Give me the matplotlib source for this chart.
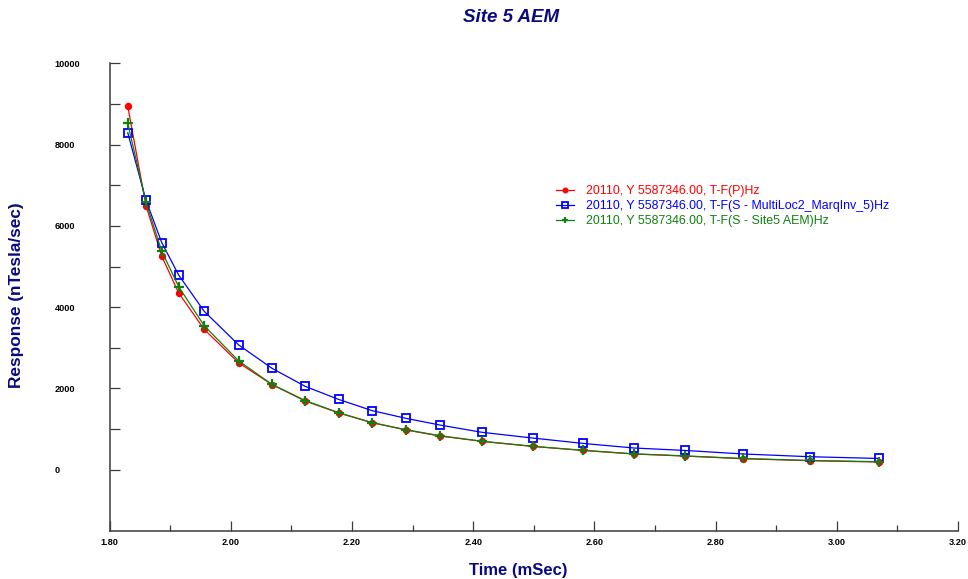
import matplotlib
matplotlib.use("Agg")
import matplotlib.pyplot as plt
from matplotlib.ticker import MultipleLocator, FixedLocator, FuncFormatter

plt.rcParams['font.family'] = ['Liberation Sans', 'DejaVu Sans']

# Channel times (mSec)
times = [1.830, 1.860, 1.886, 1.914, 1.956, 2.013, 2.068, 2.123, 2.178, 2.233,
         2.289, 2.345, 2.415, 2.498, 2.581, 2.665, 2.749, 2.845, 2.956, 3.069]

# Responses (nTesla/sec)
resp_p = [8940, 6500, 5255, 4350, 3455, 2630, 2095, 1690, 1397, 1158,
          978, 830, 697, 574, 475, 387, 337, 271, 222, 190]
resp_multiloc = [8290, 6630, 5590, 4790, 3900, 3070, 2495, 2050, 1730, 1455,
                 1265, 1100, 920, 780, 648, 535, 475, 388, 320, 278]
resp_site5 = [8520, 6585, 5377, 4505, 3545, 2677, 2100, 1700, 1404, 1160,
              985, 837, 700, 577, 478, 392, 340, 277, 228, 198]

labels = ["20110, Y 5587346.00, T-F(P)Hz",
          "20110, Y 5587346.00, T-F(S - MultiLoc2_MarqInv_5)Hz",
          "20110, Y 5587346.00, T-F(S - Site5 AEM)Hz"]

title = "Site 5 AEM"
xlabel = "Time (mSec)"
ylabel = "Response (nTesla/sec)"

navy = "#0a0a80"
axis_col = "#3a3a3a"

W, H = 968, 579
fig = plt.figure(figsize=(W / 100, H / 100), dpi=100)
ax = fig.add_axes([109.6 / W, 1 - 530.7 / H, (958 - 109.6) / W, (530.7 - 63.3) / H])

ax.plot(times, resp_p, color="#ff0000", lw=0.9, marker="o", ms=4.3,
        mec="#ff0000", mfc="#ff0000", label=labels[0])
ax.plot(times, resp_multiloc, color="#0000ff", lw=0.9, marker="s", ms=5.3,
        mec="#0000ff", mfc="none", mew=1.3, label=labels[1])
ax.plot(times, resp_site5, color="#108010", lw=0.9, marker="+", ms=6.5,
        mew=1.6, label=labels[2])

ax.set_xlim(1.8, 3.2)
ax.set_ylim(-1500, 10000)

for side in ("top", "right"):
    ax.spines[side].set_visible(False)
for side in ("left", "bottom"):
    ax.spines[side].set_color(axis_col)
    ax.spines[side].set_linewidth(1.1)

ax.xaxis.set_major_locator(MultipleLocator(0.2))
ax.xaxis.set_minor_locator(MultipleLocator(0.1))
ax.xaxis.set_major_formatter(FuncFormatter(lambda v, p: f"{v:.2f}"))
ax.tick_params(axis="x", which="major", direction="in", length=7.2, width=0.9,
               color=axis_col, pad=5.5, labelsize=6.6)
ax.tick_params(axis="x", which="minor", direction="in", length=4.3, width=0.9,
               color=axis_col)

ax.yaxis.set_major_locator(MultipleLocator(2000))
ax.yaxis.set_minor_locator(FixedLocator([1000, 3000, 5000, 7000, 9000]))
ax.yaxis.set_major_formatter(FuncFormatter(lambda v, p: f"{v:.0f}"))
ax.tick_params(axis="y", which="both", direction="in", length=7.2, width=0.9,
               color=axis_col)
ax.tick_params(axis="y", which="major", pad=39.5, labelsize=6.6)

for lab in ax.get_xticklabels() + ax.get_yticklabels():
    lab.set_fontweight("bold")
for lab in ax.get_yticklabels():
    lab.set_horizontalalignment("left")

fig.text(511 / W, 1 - 18 / H, title, ha="center", va="center",
         fontsize=13.5, fontweight="bold", style="italic", color=navy)
fig.text(518 / W, 1 - 570 / H, xlabel, ha="center", va="center",
         fontsize=12, fontweight="bold", color=navy)
fig.text(17 / W, 1 - 295 / H, ylabel, ha="center", va="center", rotation=90,
         fontsize=12.4, fontweight="bold", color=navy)

leg = ax.legend(loc="upper left", bbox_to_anchor=(556 / W, 1 - 185 / H),
                bbox_transform=fig.transFigure, frameon=False, fontsize=8.9,
                handlelength=1.45, handletextpad=0.95, labelspacing=0.25,
                borderpad=0, borderaxespad=0, labelcolor="linecolor",
                markerscale=0.75)

fig.savefig("out.png", dpi=100)
